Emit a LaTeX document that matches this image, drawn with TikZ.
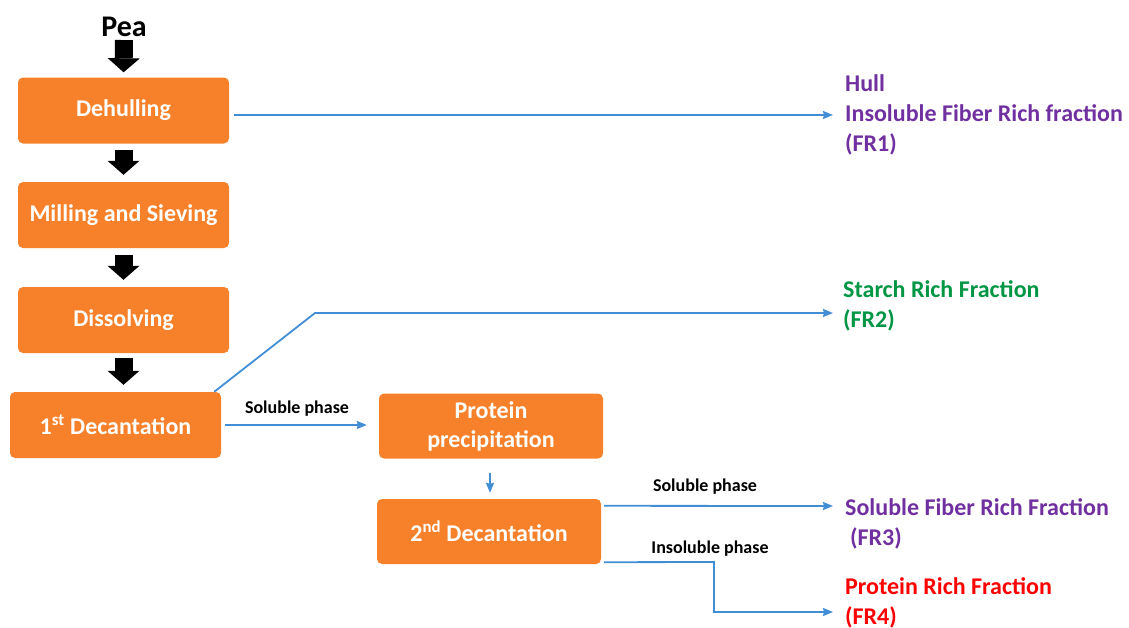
\documentclass[tikz,border=0pt]{standalone}
\usepackage{fontspec}
\setmainfont{Carlito}
\usetikzlibrary{arrows.meta,calc}
\definecolor{boxorange}{RGB}{247,129,42}
\definecolor{flowblue}{RGB}{66,142,214}
\definecolor{fpurple}{RGB}{112,48,160}
\definecolor{fgreen}{RGB}{0,150,68}
\definecolor{fred}{RGB}{255,0,0}
\newcommand{\bxfont}{\fontsize{24}{29}\selectfont\bfseries}
\newcommand{\lblfont}{\fontsize{24}{30}\selectfont\bfseries}
\newcommand{\smfont}{\fontsize{18}{20}\selectfont\bfseries}
\begin{document}
\begin{tikzpicture}[x=1pt,y=-1pt,
  proc/.style={fill=boxorange, rounded corners=5pt, text=white, font=\bxfont,
    minimum width=211pt, minimum height=66pt, inner sep=0pt, align=center},
  blockarr/.style={line width=18pt, -{Triangle[length=14pt,width=32pt,line width=0pt]}},
  flow/.style={draw=flowblue, line width=1.8pt, -{Stealth[length=10pt,width=8pt,inset=1pt]}},
  frlabel/.style={anchor=west, align=left, inner sep=0pt, font=\lblfont},
  phase/.style={inner sep=0pt, font=\smfont}]
\useasboundingbox (0,0) rectangle (1129,627);

% process boxes
\node[inner sep=0pt, font=\fontsize{30}{34}\selectfont\bfseries] (pea) at (124,27) {Pea};
\node[proc] (dehull) at (123.5,110.5) {Dehulling};
\node[proc] (mill) at (123.5,215) {Milling and Sieving};
\node[proc] (diss) at (123.5,320) {Dissolving};
\node[proc] (dec1) at (115.5,425) {1\textsuperscript{st} Decantation};
\node[proc, minimum width=224pt, minimum height=65pt] (prot) at (491,426) {Protein\\precipitation};
\node[proc, minimum width=224pt, minimum height=65pt] (dec2) at (489,531.5) {2\textsuperscript{nd} Decantation};

% fraction labels
\node[frlabel, text=fpurple] (fr1) at (845,115) {Hull\\Insoluble Fiber Rich fraction\\(FR1)};
\node[frlabel, text=fgreen] (fr2) at (843,305.5) {Starch Rich Fraction\\(FR2)};
\node[frlabel, text=fpurple] (fr3) at (845,524) {Soluble Fiber Rich Fraction\\\hspace{5pt}(FR3)};
\node[frlabel, text=fred] (fr4) at (845,603) {Protein Rich Fraction\\(FR4)};

% black block arrows
\draw[blockarr, shorten <=3pt, shorten >=5pt] (pea.south) -- (dehull.north);
\draw[blockarr, shorten <=6pt, shorten >=7pt] (dehull.south) -- (mill.north);
\draw[blockarr, shorten <=7pt, shorten >=7pt] (mill.south) -- (diss.north);
\draw[blockarr, shorten <=5pt, shorten >=7pt] (diss.south) -- (diss.south |- dec1.north);

% blue flows
\draw[flow, shorten <=5pt] (dehull.east |- fr1.west) -- ($(fr1.west)+(-12,0)$);

\coordinate (s2) at ($(dec1.north east)+(-7,0)$);
\coordinate (k2) at (315,313);
\coordinate (e2) at (833,313);
\draw[flow] (s2) -- (k2) -- (e2);

\draw[flow, shorten <=4pt, shorten >=12pt] (dec1.east) -- (prot.west |- dec1.east);
\node[phase] (sp1) at (297,409) {Soluble phase};

\draw[flow, shorten <=14pt, shorten >=6pt] (prot.south -| 490,0) -- (dec2.north -| 490,0);

\coordinate (s3) at ($(dec2.north east)+(3,7)$);
\coordinate (e3) at (833,506);
\draw[flow] (s3) -- (e3);
\node[phase] (sp2) at (705,487) {Soluble phase};

\coordinate (s4) at ($(dec2.south east)+(3,-2)$);
\coordinate (k4a) at (714,562);
\coordinate (k4b) at (714,612);
\coordinate (e4) at (833,612);
\draw[flow] (s4) -- (k4a) -- (k4b) -- (e4);
\node[phase] (ip) at (710,549) {Insoluble phase};
\end{tikzpicture}
\end{document}
